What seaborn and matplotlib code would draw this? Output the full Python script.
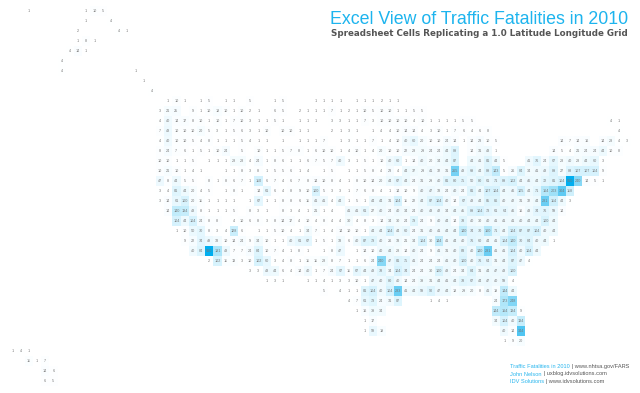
import numpy as np
import pandas as pd
import matplotlib
matplotlib.use("Agg")
import matplotlib.pyplot as plt
from matplotlib.colors import LinearSegmentedColormap
import seaborn as sns

_ = None

# ==============================
# FATALITY COUNTS, ONE LIST PER SPREADSHEET ROW (north to south)
# ==============================
row_00 = [_]*2 + [1, _, _, _, _, _, _, 1, 10, 5]
row_01 = [_]*9 + [1, _, _, 4]
row_02 = [_]*8 + [2, _, _, _, _, 4, 1]
row_03 = [_]*8 + [1, 8, 1]
row_04 = [_]*7 + [4, 14, 1]
row_05 = [_]*6 + [4]
row_06 = [_]*6 + [4] + [_]*8 + [1]
row_07 = [_]*16 + [1]
row_08 = [_]*17 + [4]
row_09 = [_]*19 + [1, 10, 1, _, 1, 5, _, 1, 1, _, 5, _, _, 1, 5, _, _, _, 1, 1, 1, 1, _, 1, 1, 1, 2, 1, 1]
row_10 = [_]*18 + [3, 21, 25, _, 9, 1, 10, 18, 10, 1, 10, 2, 1, _, 6, 5, _, 2, 1, 1, 1, 7, 1, 2, 1, 10, 5, 10, 10, 1, 1, 5, 5]
row_11 = [_]*18 + [4, 40, 14, 17, 8, 10, 1, 10, 1, 7, 10, 3, 1, 1, 5, 1, _, 1, 1, 1, _, 3, 3, 1, 1, 7, 3, 10, 10, 10, 10, 4, 10, 1, 1, 1, 1, 5, 5] + [_]*16 + [4, 1]
row_12 = [_]*18 + [7, 48, 10, 10, 10, 20, 5, 3, 1, 5, 6, 3, 1, 10, _, 10, 10, 1, 1, _, _, 2, 1, 3, 1, _, 1, 4, 4, 10, 14, 14, 4, 3, 10, 1, 7, 6, 4, 6, 8] + [_]*15 + [4]
row_13 = [_]*18 + [4, 40, 10, 10, 5, 4, 8, 1, 1, 1, 5, 4, 1, 1, _, 1, _, 1, 1, 1, 7, _, 1, 3, 1, 1, 7, 1, 4, 10, 40, 60, 20, 10, 10, 24, 14, 1, 14, 23, 10, 5] + [_]*7 + [14, 7, 14, 16, _, 14, 28, 4, 3]
row_14 = [_]*18 + [8, 24, 7, 6, 1, 5, 1, 10, 24, _, 5, _, 10, 1, 1, 5, 7, 8, 1, 6, 10, 10, 1, 4, 10, 1, 4, 20, 10, 10, 22, 28, 29, 24, 24, 44, 89, _, 14, 31, 43, 1] + [_]*6 + [14, 5, 4, 21, 24, 24, 44, 10, 8]
row_15 = [_]*18 + [10, 10, 1, 1, 5, _, 1, 1, 1, 28, 28, 4, 24, 1, 8, 6, 1, 1, 6, 7, 5, 7, 40, 3, 1, 5, 1, 10, 40, 60, 1, 14, 40, 20, 34, 44, 87, _, 44, 41, 81, 44, 5, _, _, 41, 76, 24, 67, 28, 40, 28, 44, 60, 3]
row_16 = [_]*18 + [10, 21, 10, 1, 4, 1, _, _, 1, 1, 8, 3, 8, 1, 5, 5, 6, 1, 4, _, 1, 5, _, 1, 1, 5, 8, 4, 23, 4, 44, 37, 29, 41, 32, 31, 265, 48, 69, 44, 89, 143, 5, 26, 84, 34, 41, 48, 89, 27, 88, 107, 107, 104, 9]
row_17 = [_]*18 + [47, 8, 44, 5, 5, _, 8, 1, 8, 6, 7, 1, 110, 6, 7, 4, 6, 7, 8, 14, 10, 8, 4, 1, 8, 10, 14, 20, 44, 67, 44, 24, 31, 29, 40, 81, 80, 75, 50, 80, 61, 71, 89, 102, 44, 46, 44, 72, 81, 104, 560, 240, 14, 5, 1]
row_18 = [_]*18 + [3, 4, 81, 44, 20, 4, 5, _, 1, 8, 1, _, 14, 61, 6, 4, 8, 9, 10, 100, 5, 3, 3, 1, 7, 6, 8, 4, 1, 14, 10, 9, 40, 47, 33, 24, 40, 24, 81, 44, 107, 104, 44, 46, 105, 44, 71, 164, 203, 304, 118]
row_19 = [_]*18 + [3, 14, 61, 100, 20, 11, 1, 1, 1, 1, _, 1, 67, 1, 1, 8, 8, 6, 11, 41, 41, 4, 44, 1, 5, 1, 44, 44, 31, 104, 11, 22, 44, 87, 104, 40, 14, 67, 48, 44, 85, 86, 40, 42, 31, 32, 44, 281, 114, 44, 3]
row_20 = [_]*19 + [14, 140, 134, 48, 8, 1, 1, 1, 5, _, 8, 3, 1, _, 8, 3, 4, 1, 21, 1, 4, _, 41, 41, 61, 27, 40, 24, 40, 34, 24, 40, 43, 42, 34, 44, 45, 89, 104, 73, 61, 64, 46, 16, 43, 74, 76, 59, 14]
row_21 = [_]*20 + [104, 44, 104, 24, 8, 8, _, 4, 10, 6, 8, 3, 8, 14, 17, 4, 10, 4, 8, 4, 4, 30, 4, 8, 3, 14, 34, 30, 24, 79, 24, 9, 40, 44, 14, 78, 40, 30, 40, 41, 41, 41, 40, 44, 44, 100, 44]
row_22 = [_]*20 + [1, 10, 50, 70, 8, 3, 4, 128, 6, _, 1, 1, 5, 10, 4, 1, 34, 7, 1, 4, 14, 10, 10, 1, 44, 44, 104, 44, 60, 24, 31, 40, 41, 44, 44, 140, 74, 70, 160, 71, 44, 104, 87, 87, 104, 40, 44]
row_23 = [_]*21 + [9, 22, 74, 49, 33, 10, 14, 24, 9, 34, 10, 1, 1, 40, 61, 67, 1, 5, 1, 33, 6, 40, 87, 79, 40, 26, 33, 21, 34, 104, 30, 144, 41, 44, 40, 76, 60, 44, 41, 104, 140, 70, 84, 40, 44, 1]
row_24 = [_]*22 + [40, 84, 560, 181, 48, 7, 7, 24, 84, 10, 7, 4, 1, 8, 1, _, 1, 8, 47, _, 1, 14, 10, 40, 44, 28, 14, 40, 24, 9, 41, 31, 40, 83, 40, 140, 281, 41, 41, 104, 40, 104, 44]
row_25 = [_]*24 + [2, 102, 11, 13, 3, 10, 102, 60, 3, 4, 8, 1, 11, 11, 28, 8, 7, 1, 1, 6, 24, 240, 47, 81, 75, 41, 24, 24, 24, 41, 40, 100, 40, 76, 64, 31, 44, 87, 47, 4]
row_26 = [_]*29 + [3, 3, 48, 44, 6, 4, 14, 40, 1, 7, 24, 67, 11, 67, 44, 48, 78, 34, 104, 74, 24, 24, 30, 100, 48, 24, 34, 84, 31, 44, 47, 48, 100]
row_27 = [_]*31 + [1, 3, 1, _, _, 1, 1, 4, 1, 3, 3, 10, 1, 47, 40, 80, 40, 14, 24, 39, 31, 44, 41, 44, 78, 67, 44, 47, 40, 59, 4]
row_28 = [_]*38 + [5, _, 4, 1, 1, 81, 104, 40, 104, 283, 41, 44, 59, 90, 47, 44, 18, 29, 20, 8, 41, 19, 144, 44]
row_29 = [_]*41 + [4, 7, 61, 79, 24, 31, 87, _, _, _, 1, 4, 1, _, _, _, _, _, 24, 173, 248]
row_30 = [_]*42 + [1, 16, 39, 34] + [_]*13 + [144, 164, 134, 9]
row_31 = [_]*43 + [1, 17] + [_]*14 + [34, 104, 40, 134]
row_32 = [_]*43 + [1, 59, 19] + [_]*14 + [40, 14, 344]
row_33 = [_]*60 + [1, 9, 20]
row_34 = [1, 4, 1]
row_35 = [_]*2 + [11, 1, 7]
row_36 = [_]*4 + [14, 6]
row_37 = [_]*4 + [6, 5]

all_rows = [
    row_00, row_01, row_02, row_03, row_04, row_05, row_06, row_07, row_08, row_09,
    row_10, row_11, row_12, row_13, row_14, row_15, row_16, row_17, row_18, row_19,
    row_20, row_21, row_22, row_23, row_24, row_25, row_26, row_27, row_28, row_29,
    row_30, row_31, row_32, row_33, row_34, row_35, row_36, row_37,
]

title_text = "Excel View of Traffic Fatalities in 2010"
subtitle_text = "Spreadsheet Cells Replicating a 1.0 Latitude Longitude Grid"
credit_blue = ["Traffic Fatalities in 2010", "John Nelson", "IDV Solutions"]
credit_grey = [" | www.nhtsa.gov/FARS", " | uxblog.idvsolutions.com", " | www.idvsolutions.com"]

# ==============================
# GRID SETUP
# ==============================
n_cols = 76
grid = pd.DataFrame(
    [r + [None] * (n_cols - len(r)) for r in all_rows], dtype=float
)
labels = grid.map(lambda v: "" if pd.isna(v) else str(int(v)))

sns.set_theme(style="white")
plt.rcParams["font.family"] = ["Liberation Sans", "DejaVu Sans"]

W, H = 640, 393
fig = plt.figure(figsize=(W / 100, H / 100), dpi=100, facecolor="white")
ax = fig.add_axes([8.3 / W, 1 - 385.6 / H, n_cols * 8.2 / W, 380 / H])

# pale for most cells, only the big metro cells get near full blue
blues = LinearSegmentedColormap.from_list(
    "cells",
    [(0, "#ffffff"), (100 / 560, "#d8f3fd"), (200 / 560, "#a0e1f8"), (300 / 560, "#5fcaf3"), (1, "#00aeef")],
)
sns.heatmap(
    grid, ax=ax, cmap=blues, vmin=0, vmax=560, cbar=False,
    annot=labels.values, fmt="", annot_kws={"fontsize": 2.7, "color": "#777777"},
    xticklabels=False, yticklabels=False,
)
ax.set_xlabel("")
ax.set_ylabel("")

# ==============================
# TITLES AND CREDITS
# ==============================
fig.text(628 / W, 1 - 24 / H, title_text, ha="right", va="baseline",
         fontsize=12.8, color="#1db4ee")
# DejaVu bold at a smaller size comes closer to the wide spaced look of the subtitle
fig.text(628 / W, 1 - 36 / H, subtitle_text, ha="right", va="baseline",
         fontsize=6.3, fontweight="bold", family="DejaVu Sans", color="#555555")

renderer = fig.canvas.get_renderer()
for blue_part, grey_part, base in zip(credit_blue, credit_grey, [368, 375.5, 383]):
    t = fig.text(510 / W, 1 - base / H, blue_part, va="baseline", fontsize=4.05,
                 color="#29b6ee")
    end = t.get_window_extent(renderer).x1
    fig.text(end / W, 1 - base / H, grey_part, va="baseline", fontsize=4.05,
             color="#555555")

fig.savefig("out.png", dpi=100, facecolor="white")
